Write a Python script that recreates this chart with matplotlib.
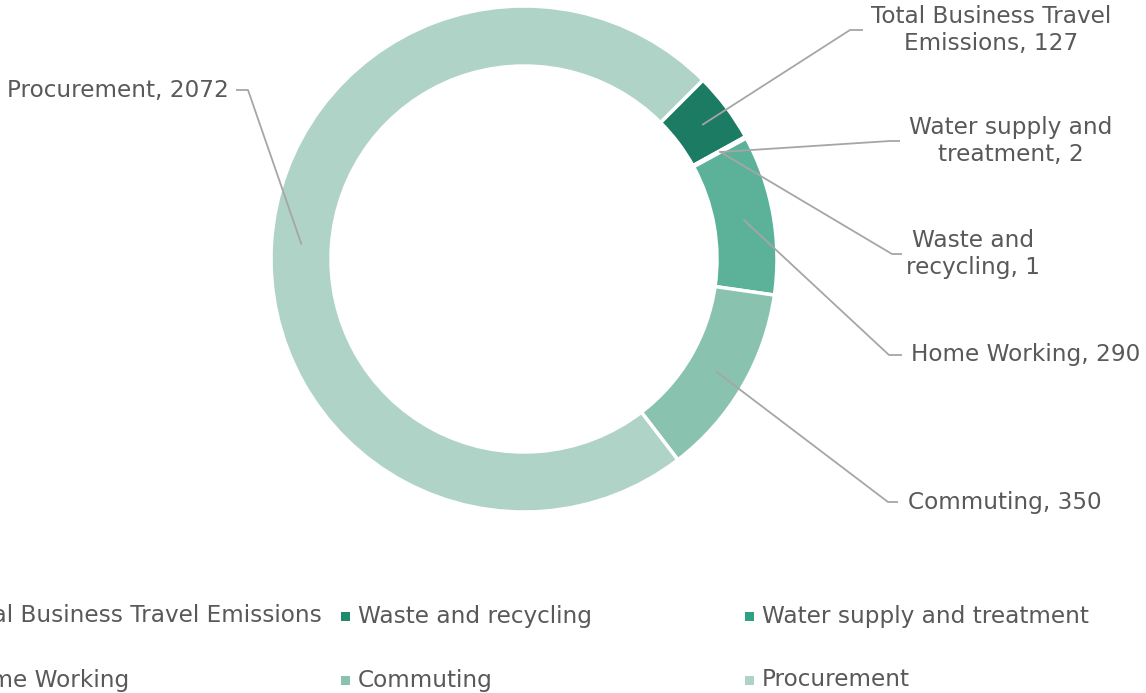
import numpy as np
import matplotlib
matplotlib.use("Agg")
import matplotlib.pyplot as plt
from matplotlib.patches import Rectangle

# data
categories = ["Total Business Travel Emissions", "Waste and recycling",
              "Water supply and treatment", "Home Working", "Commuting", "Procurement"]
values = [127, 1, 2, 290, 350, 2072]
slice_labels = ["Total Business Travel\nEmissions, 127", "Waste and\nrecycling, 1",
                "Water supply and\ntreatment, 2", "Home Working, 290",
                "Commuting, 350", "Procurement, 2072"]
colors = ["#1b7b63", "#208a6d", "#2ea083", "#5bb299", "#89c3af", "#b0d3c8"]

W, H = 1146, 693
fig = plt.figure(figsize=(W / 100, H / 100), dpi=100)
ax = fig.add_axes([0, 0, 1, 1])

# work in pixel units, y measured from the bottom
cx, cy = 524, H - 259
R, ring = 253, 60
wedges, _ = ax.pie(values, colors=colors, startangle=45, counterclock=False,
                   center=(cx, cy), radius=R,
                   wedgeprops=dict(width=ring, edgecolor="white", linewidth=2.5))
ax.set_xlim(0, W)
ax.set_ylim(0, H)
ax.set_aspect("equal")
ax.axis("off")

txt_color = "#595959"
line_color = "#a6a6a6"
fs = 16.7
fam = ["DejaVu Sans"]

# label layout: elbow point, end of short horizontal, text position, alignment
layout = [
    ((850, 30), (863, 30), (991, 30), "center"),
    ((892, 254), (902, 254), (973, 254), "center"),
    ((890, 141), (900, 141), (1011, 141), "center"),
    ((889, 355), (902, 355), (911, 355), "left"),
    ((888, 502), (898, 502), (908, 502), "left"),
    ((248, 90), (236, 90), (229, 90), "right"),
]

rmid = R - ring / 2
for w, lab, (elb, hend, tpos, ha) in zip(wedges, slice_labels, layout):
    ang = np.deg2rad((w.theta1 + w.theta2) / 2)
    px = cx + rmid * np.cos(ang)
    py = cy + rmid * np.sin(ang)
    ax.plot([px, elb[0], hend[0]], [py, H - elb[1], H - hend[1]],
            color=line_color, lw=1.3, solid_capstyle="butt")
    ax.text(tpos[0], H - tpos[1], lab, ha=ha, va="center", color=txt_color,
            fontsize=fs, family=fam, multialignment="center", linespacing=1.25)

# legend drawn as a grid of 3 columns (first column runs off the left edge)
col_x = [-54, 345, 749]
row_y = [616, 680]
for i, (name, c) in enumerate(zip(categories, colors)):
    x = col_x[i % 3]
    y = row_y[i // 3]
    ax.add_patch(Rectangle((x - 4, H - y - 4.5), 8.5, 8.5, color=c, lw=0))
    ax.text(x + 13, H - y, name, ha="left", va="center", color=txt_color,
            fontsize=fs, family=fam)

fig.savefig("out.png", dpi=100, facecolor="white")
